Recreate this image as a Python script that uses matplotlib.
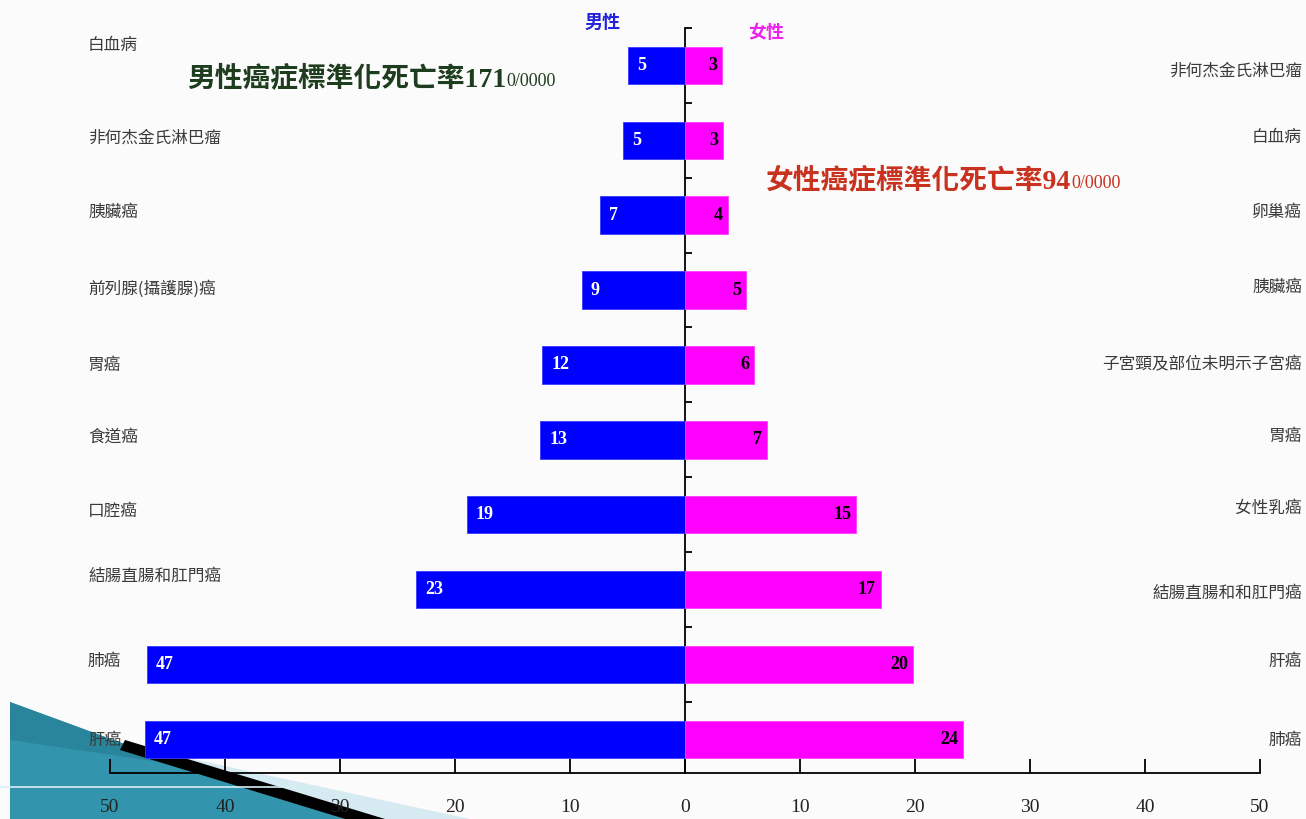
import matplotlib
matplotlib.use("Agg")
import matplotlib.pyplot as plt
from matplotlib.patches import Polygon
import matplotlib.transforms as mtransforms
import numpy as np

# ---------------- data ----------------
male_labels = ["白血病", "非何杰金氏淋巴瘤", "胰臟癌", "前列腺(攝護腺)癌", "胃癌",
               "食道癌", "口腔癌", "結腸直腸和肛門癌", "肺癌", "肝癌"]
male_values = [5.0, 5.4, 7.4, 9.0, 12.4, 12.6, 19.0, 23.4, 46.8, 47.0]

female_labels = ["非何杰金氏淋巴瘤", "白血病", "卵巢癌", "胰臟癌", "子宮頸及部位未明示子宮癌",
                 "胃癌", "女性乳癌", "結腸直腸和和肛門癌", "肝癌", "肺癌"]
female_values = [3.2, 3.3, 3.7, 5.3, 6.0, 7.1, 14.9, 17.0, 19.8, 24.2]

x_ticks = [-50, -40, -30, -20, -10, 0, 10, 20, 30, 40, 50]
male_header = "男性"
female_header = "女性"
male_title = "男性癌症標準化死亡率171"
female_title = "女性癌症標準化死亡率94"
rate_unit = "0/0000"

# ---------------- figure ----------------
W, H = 1306, 819
fig = plt.figure(figsize=(W / 100, H / 100), dpi=100)
fig.patch.set_facecolor("#fbfbfb")

# slide decoration (bottom-left), behind the chart
def px(x, y):
    return (x / W, 1 - y / H)

deco = [
    ([(160, 752), (470, 819), (380, 819)], "#b9dcea", 0.55),
    ([(10, 702), (130, 746), (345, 819), (10, 819)], "#3395ad", 1.0),
    ([(10, 702), (130, 746), (200, 768), (10, 740)], "#257f95", 0.7),
    ([(125, 740), (385, 819), (345, 819), (120, 750)], "#000000", 1.0),
]
for pts, col, a in deco:
    fig.add_artist(Polygon([px(*p) for p in pts], closed=True, transform=fig.transFigure,
                           facecolor=col, edgecolor="none", alpha=a, zorder=-5))
fig.add_artist(plt.Line2D([0.5 / W, 300 / W], [1 - 787 / H, 1 - 787 / H],
                          transform=fig.transFigure, color="#d8eef5", lw=1.2, zorder=-4))

ax = fig.add_axes([110 / W, 46 / H, 1150 / W, 745 / H])
ax.set_facecolor("none")

y = np.arange(len(male_values))
male = np.array(male_values)
female = np.array(female_values)

ax.barh(y, -male, height=0.5, color="#0000ff", edgecolor="#3a3aff", lw=0.6, zorder=3)
ax.barh(y, female, height=0.5, color="#ff00ff", edgecolor="#ff40ff", lw=0.6, zorder=3)

ax.set_xlim(-50, 50)
ax.set_ylim(9.45, -0.5)

num_font = ["Liberation Serif", "DejaVu Serif"]
for i, v in enumerate(male):
    ax.text(-v + 0.8, i, f"{v:.0f}", ha="left", va="center", color="white",
            fontsize=13, fontweight="bold", family=num_font, zorder=4)
for i, v in enumerate(female):
    ax.text(v - 0.4, i, f"{v:.0f}", ha="right", va="center", color="black",
            fontsize=13, fontweight="bold", family=num_font, zorder=4)

# spines / ticks
for s in ["top", "right"]:
    ax.spines[s].set_visible(False)
ax.spines["left"].set_position(("data", 0))
ax.spines["left"].set_linewidth(1.3)
ax.spines["bottom"].set_linewidth(1.3)
ax.set_xticks(x_ticks)
ax.set_xticklabels([str(abs(t)) for t in x_ticks], family=num_font, fontsize=14, color="#222222")
ax.tick_params(axis="x", direction="in", length=10, width=1.3, pad=19)
ax.set_yticks(np.arange(-0.5, len(male_values) - 0.5, 1.0))
ax.set_yticklabels([])
ax.tick_params(axis="y", direction="in", length=5, width=1.3)

# category labels
cjk = ["Noto Sans CJK TC", "DejaVu Sans"]
left_tr = mtransforms.blended_transform_factory(fig.transFigure, ax.transData)
nudge_left = [-0.27, -0.03, -0.04, -0.02, 0.0, -0.04, -0.05, -0.17, -0.04, 0.02]
nudge_right = [0.08, -0.04, -0.04, -0.03, 0.0, -0.05, -0.08, 0.05, -0.04, 0.02]
for i, lab in enumerate(male_labels):
    ax.text(88 / W, i + nudge_left[i], lab, transform=left_tr, ha="left", va="center",
            fontsize=12, color="#3a3a3a", family=cjk)
for i, lab in enumerate(female_labels):
    ax.text(1302 / W, i + nudge_right[i], lab, transform=left_tr, ha="right", va="center",
            fontsize=12, color="#3a3a3a", family=cjk)

# headers
fig.text(603 / W, 1 - 22 / H, male_header, ha="center", va="center", color="#2222dd",
         fontsize=13, fontweight="bold", family=cjk)
fig.text(766 / W, 1 - 32 / H, female_header, ha="center", va="center", color="#ee22ee",
         fontsize=13, fontweight="bold", family=cjk)

# rate titles
title_font = ["Liberation Serif", "Noto Sans CJK TC"]
t1 = fig.text(187 / W, 1 - 80 / H, male_title, ha="left", va="center", color="#1e3d1e",
              fontsize=20, fontweight="bold", family=title_font)
ax.annotate(rate_unit, xy=(1, 0.12), xycoords=t1, ha="left", va="bottom", color="#1e3d1e",
            fontsize=13, family=num_font, annotation_clip=False)
t2 = fig.text(766 / W, 1 - 182 / H, female_title, ha="left", va="center", color="#c8321e",
              fontsize=20, fontweight="bold", family=title_font)
ax.annotate(rate_unit, xy=(1, 0.12), xycoords=t2, ha="left", va="bottom", color="#c8321e",
            fontsize=13, family=num_font, annotation_clip=False)

fig.savefig("out.png", dpi=100, facecolor=fig.get_facecolor())
